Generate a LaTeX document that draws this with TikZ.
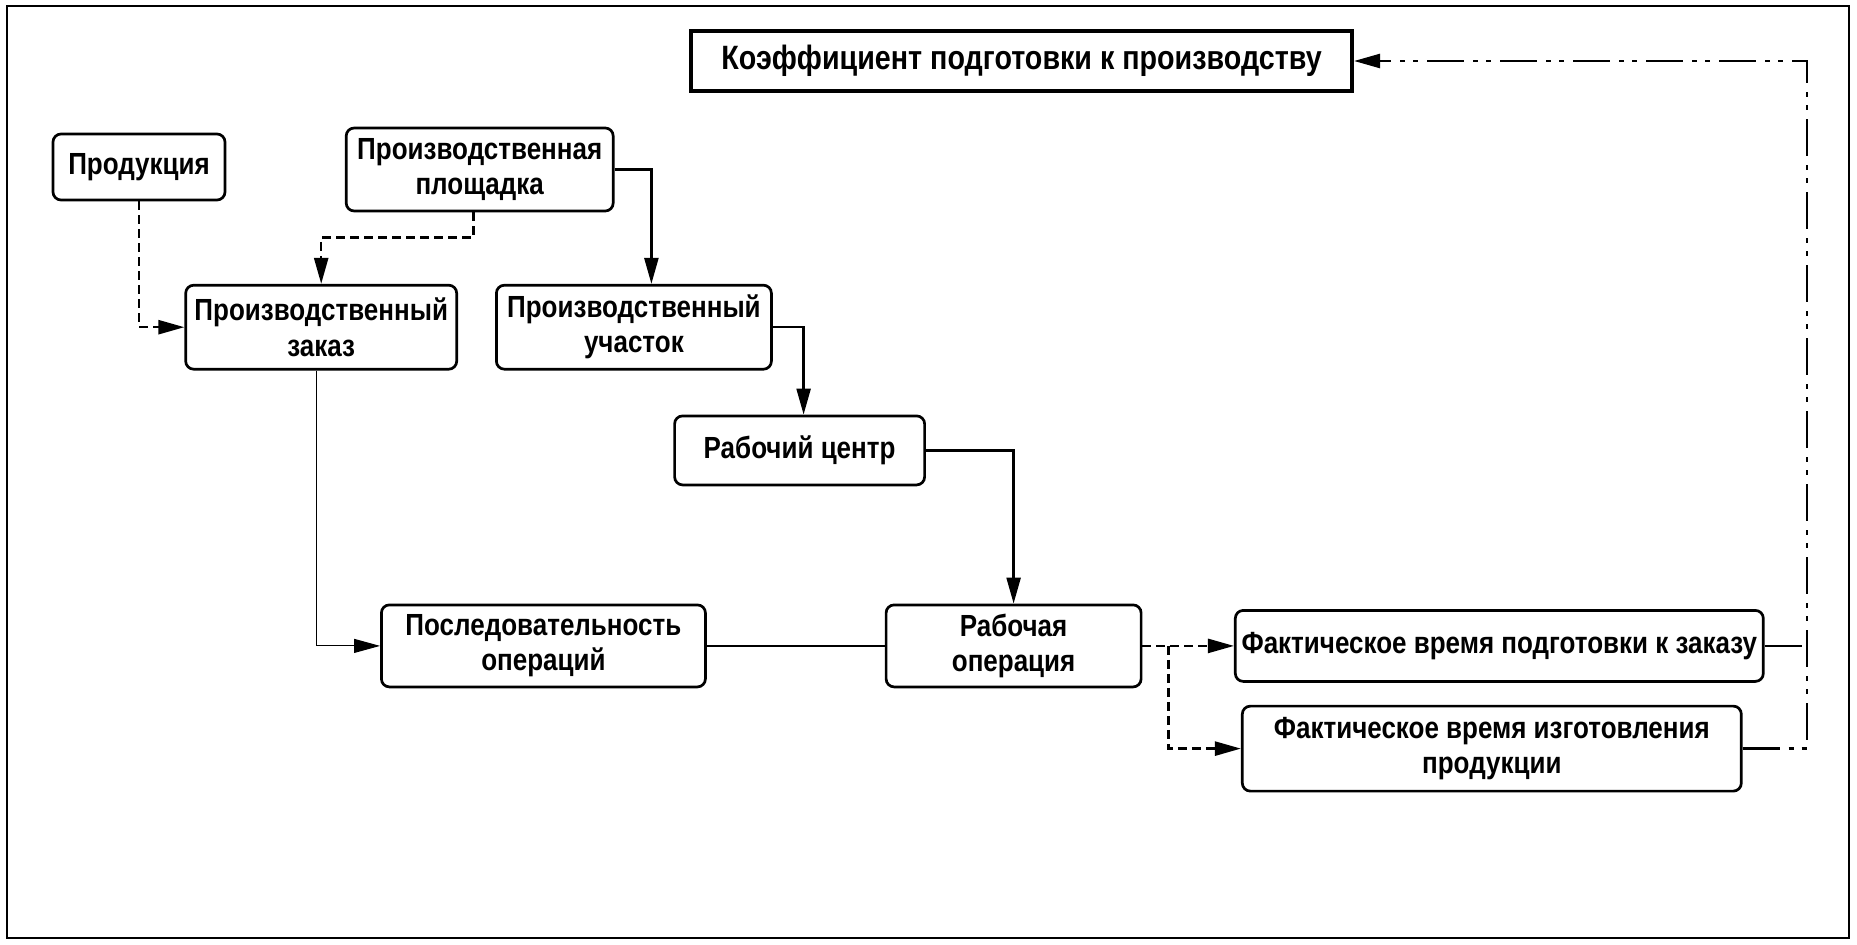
\documentclass[tikz,border=0pt]{standalone}
\usepackage{fontspec}
\setmainfont{Liberation Sans}[FakeStretch=0.85]
\usetikzlibrary{arrows.meta,positioning,calc}
\tikzset{
  box/.style={draw, line width=0.27mm, rounded corners=0.8mm, align=center, inner sep=1pt,
    font=\fontsize{8.7pt}{10pt}\selectfont\bfseries},
  titlebox/.style={draw, line width=0.4mm, inner sep=1pt,
    font=\fontsize{9.6pt}{11pt}\selectfont\bfseries},
  arrow/.style={-{Triangle[length=2.6mm, width=1.4mm]}, line width=0.25mm},
  link/.style={line width=0.25mm},
  dasharrow/.style={arrow, dash pattern=on 0.9mm off 0.5mm},
  feedback/.style={line width=0.25mm, dash pattern=on 3.7mm off 0.9mm on 0.5mm off 0.8mm on 0.5mm off 0.9mm},
}
\begin{document}
\begin{tikzpicture}
      \useasboundingbox (0,0) rectangle (185.7mm,-94.4mm);
      \draw[line width=0.2mm] (0.7mm,-0.6mm) rectangle (184.9mm,-93.8mm);

      \node[titlebox, minimum width=66.1mm, minimum height=6mm] (coef) at (102.15mm,-6.1mm) {Коэффициент подготовки к производству};
      \node[box, minimum width=17.2mm, minimum height=6.6mm] (prod) at (13.9mm,-16.7mm) {Продукция};
      \node[box, minimum width=26.7mm, minimum height=8.3mm, right=11.85mm of prod, yshift=-0.25mm] (plosch) {Производственная\\площадка};
      \node[box, minimum width=27.1mm, minimum height=8.4mm, below right=8.25mm and -4.2mm of prod] (zakaz) {Производственный\\заказ};
      \node[box, minimum width=27.5mm, minimum height=8.4mm, right=3.7mm of zakaz] (uchast) {Производственный\\участок};
      \node[box, minimum width=25mm, minimum height=6.9mm, below right=4.4mm and -9.95mm of uchast] (rcentr) {Рабочий центр};
      \node[box, minimum width=32.4mm, minimum height=8.2mm, below right=23.3mm and -7.8mm of zakaz] (posl) {Последовательность\\операций};
      \node[box, minimum width=25.5mm, minimum height=8.2mm, right=17.8mm of posl] (oper) {Рабочая\\операция};
      \node[box, minimum width=52.8mm, minimum height=7.1mm, right=9.15mm of oper] (podg) {Фактическое время подготовки к заказу};
      \node[box, minimum width=49.9mm, minimum height=8.5mm, below=2.2mm of podg, xshift=-0.75mm] (izg) {Фактическое время изготовления\\продукции};
      \coordinate (fb) at (180.7mm,-6.1mm);

      \draw[dasharrow] (prod) |- (zakaz);
      \draw[dasharrow] ([xshift=-0.6mm]plosch.south) -- ++(0,-2.5mm) -| (zakaz.north);
      \draw[arrow] (plosch.east) -| ([xshift=1.75mm]uchast.north);
      \draw[arrow] (uchast.east) -| ([xshift=0.4mm]rcentr.north);
      \draw[arrow] (rcentr.east) -| (oper.north);
      \draw[arrow, line width=0.1mm] ([xshift=-0.45mm]zakaz.south) |- (posl.west);
      \draw[link] (posl) -- (oper);
      \draw[dasharrow] (oper) -- (podg);
      \draw[dasharrow] ($(oper.east)+(2.6mm,0)$) |- (izg.west);
      \draw[feedback] (podg.east) -- (podg.east -| fb);
      \draw[arrow, feedback] (izg.east) -| (fb) -- (coef.east);
    \end{tikzpicture}
\end{document}
